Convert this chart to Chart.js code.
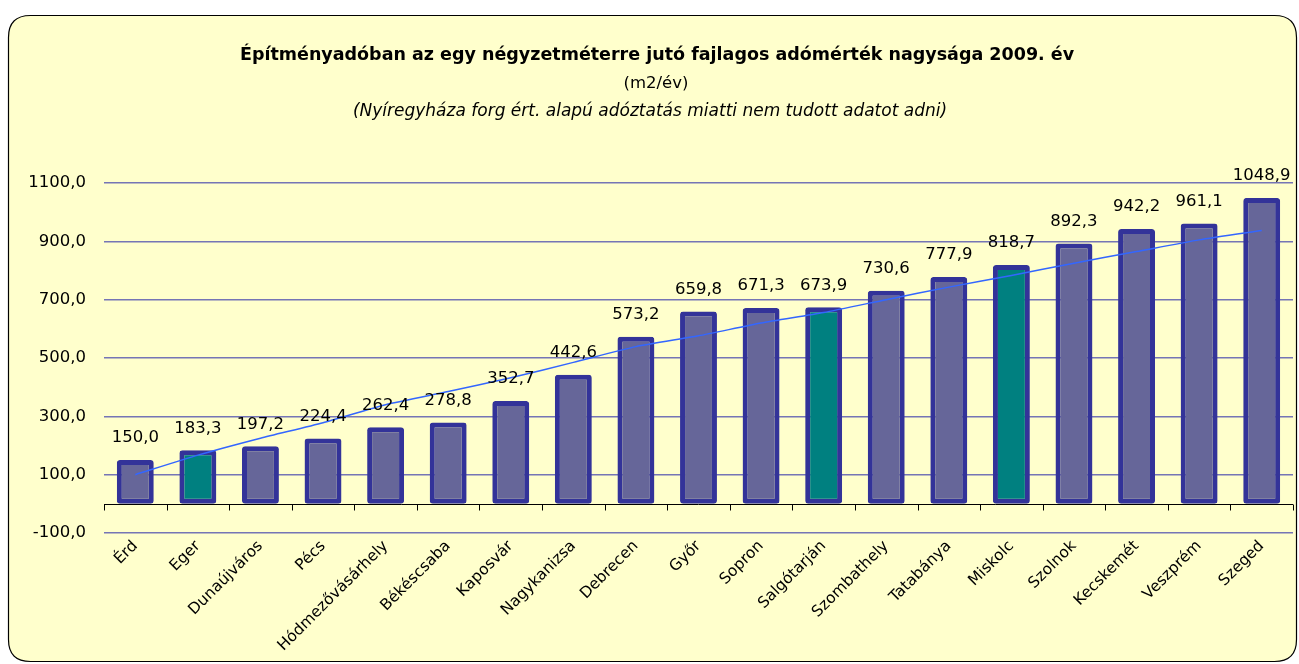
<!DOCTYPE html>
<html>
<head>
<meta charset="utf-8">
<script src="https://cdn.jsdelivr.net/npm/chart.js@4.4.1/dist/chart.umd.min.js"></script>
<style>
  html, body { margin: 0; padding: 0; background: #ffffff; }
  #wrap { width: 1299px; height: 664px; position: relative; }
</style>
</head>
<body>
<div id="wrap"><canvas id="c" width="1299" height="664"></canvas></div>
<script>
const titleMain = 'Építményadóban az egy négyzetméterre jutó fajlagos adómérték nagysága 2009. év';
const titleUnit = '(m2/év)';
const titleNote = '(Nyíregyháza forg ért. alapú adóztatás miatti nem tudott adatot adni)';

const categories = ['Érd','Eger','Dunaújváros','Pécs','Hódmezővásárhely','Békéscsaba','Kaposvár','Nagykanizsa','Debrecen','Győr','Sopron','Salgótarján','Szombathely','Tatabánya','Miskolc','Szolnok','Kecskemét','Veszprém','Szeged'];
const values = [150.0,183.3,197.2,224.4,262.4,278.8,352.7,442.6,573.2,659.8,671.3,673.9,730.6,777.9,818.7,892.3,942.2,961.1,1048.9];
const trendValues = [100,167,225,278,340,385,432,485,539,576,620,656,700,743,783,825,865,905,937];
const highlighted = ['Eger','Salgótarján','Miskolc'];
const yMin = -100, yMax = 1100, yStep = 200;

const FONT = "'Comic Sans MS', 'DejaVu Sans', sans-serif";
const fmt = v => Number(v).toFixed(1).replace('.', ',');

const bgPlugin = {
  id: 'bg',
  beforeDraw(chart) {
    const ctx = chart.ctx;
    ctx.save();
    const x = 8.5, y = 15.5, w = 1288, h = 646, r = 22;
    ctx.beginPath();
    ctx.moveTo(x + r, y);
    ctx.lineTo(x + w - r, y);
    ctx.quadraticCurveTo(x + w, y, x + w, y + r);
    ctx.lineTo(x + w, y + h - r);
    ctx.quadraticCurveTo(x + w, y + h, x + w - r, y + h);
    ctx.lineTo(x + r, y + h);
    ctx.quadraticCurveTo(x, y + h, x, y + h - r);
    ctx.lineTo(x, y + r);
    ctx.quadraticCurveTo(x, y, x + r, y);
    ctx.closePath();
    ctx.fillStyle = '#FFFFCC';
    ctx.fill();
    ctx.lineWidth = 1.2;
    ctx.strokeStyle = '#000000';
    ctx.stroke();
    // titles
    ctx.fillStyle = '#000';
    ctx.textAlign = 'center';
    ctx.textBaseline = 'middle';
    ctx.font = 'bold 17.5px ' + FONT;
    ctx.fillText(titleMain, 657, 55);
    ctx.font = '16.5px ' + FONT;
    ctx.fillText(titleUnit, 656, 84);
    ctx.font = 'italic 17px ' + FONT;
    ctx.fillText(titleNote, 650, 112);
    ctx.restore();
  }
};

const axisPlugin = {
  id: 'zeroAxis',
  afterDatasetsDraw(chart) {
    const ctx = chart.ctx;
    const xs = chart.scales.x, ys = chart.scales.y;
    const y0 = Math.round(ys.getPixelForValue(0)) + 0.5;
    ctx.save();
    ctx.strokeStyle = '#000';
    ctx.lineWidth = 1;
    ctx.beginPath();
    ctx.moveTo(chart.chartArea.left, y0);
    ctx.lineTo(chart.chartArea.right, y0);
    for (let i = 0; i <= categories.length; i++) {
      const px = Math.round(xs.getPixelForValue(i - 0.5)) + 0.5;
      ctx.moveTo(px, y0);
      ctx.lineTo(px, y0 + 6);
    }
    ctx.stroke();
    // data labels
    const meta = chart.getDatasetMeta(0);
    ctx.fillStyle = '#000';
    ctx.font = '16.5px ' + FONT;
    ctx.textAlign = 'center';
    ctx.textBaseline = 'middle';
    meta.data.forEach((bar, i) => {
      ctx.fillText(fmt(values[i]), bar.x, bar.y - 22);
    });
    ctx.restore();
  }
};

new Chart(document.getElementById('c'), {
  data: {
    labels: categories,
    datasets: [
      {
        type: 'bar',
        data: values,
        backgroundColor: categories.map(c => highlighted.includes(c) ? '#008080' : '#666699'),
        borderColor: '#333399',
        borderWidth: 5,
        borderSkipped: false,
        borderRadius: 3,
        barPercentage: 0.59,
        categoryPercentage: 1.0,
        order: 2
      },
      {
        type: 'line',
        data: trendValues,
        borderColor: '#3366FF',
        borderWidth: 1.5,
        pointRadius: 0,
        tension: 0.2,
        fill: false,
        order: 1
      }
    ]
  },
  plugins: [bgPlugin, axisPlugin],
  options: {
    responsive: false,
    animation: false,
    events: [],
    layout: { padding: { left: 10, right: 6, top: 183, bottom: 0 } },
    plugins: {
      legend: { display: false },
      title: { display: false },
      tooltip: { enabled: false }
    },
    scales: {
      x: {
        grid: { display: false, drawTicks: false },
        border: { display: false },
        ticks: {
          color: '#000',
          font: { family: FONT, size: 15.5 },
          minRotation: 45,
          maxRotation: 45,
          autoSkip: false,
          padding: 4
        },
        afterFit(s) { s.height = 131; }
      },
      y: {
        min: yMin,
        max: yMax,
        grid: { color: '#7575B5', lineWidth: 1.5, drawTicks: false },
        border: { display: false },
        ticks: {
          stepSize: yStep,
          color: '#000',
          font: { family: FONT, size: 16.5 },
          padding: 18,
          callback: v => fmt(v)
        },
        afterFit(s) { s.width = 94; }
      }
    }
  }
});
</script>
</body>
</html>
